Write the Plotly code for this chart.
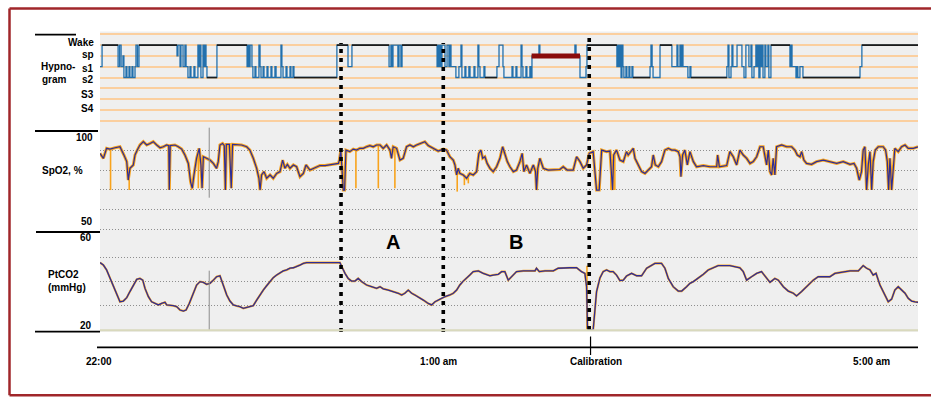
import plotly.graph_objects as go

W, H = 931, 397


def px(x):
    return x / W


def py(y):
    return 1 - y / H


# ---------------- DATA (time in minutes after 22:00) ----------------
hyp_t = [0.0, 1.1, 9.6, 10.4, 11.2, 12.2, 12.7, 13.8, 14.3, 15.4, 15.9, 17.0, 17.5, 18.6, 19.1, 19.9, 20.7,
         40.9, 41.4, 42.5, 43.0, 44.1, 45.1, 45.7, 46.7, 47.8, 48.3, 49.9, 50.4, 52.0, 52.6, 53.1, 53.6, 54.7,
         55.2, 55.8, 56.3, 56.8, 62.1,
         78.1, 78.6, 79.1, 79.7, 80.7, 81.2, 82.3, 82.8, 84.4, 85.0, 85.5, 86.6, 87.1, 88.7, 89.2, 90.8, 91.3,
         92.9, 93.5, 96.1, 96.6, 97.2, 98.8, 99.3, 100.9, 101.4, 102.5, 103.0,
         125.8, 131.7, 133.8, 153.5, 154.5, 155.1, 155.6, 158.2, 158.8, 159.8, 160.4, 179.0, 179.5, 180.0,
         180.5, 181.1, 181.6,
         183.2, 184.3, 185.3, 185.9, 186.4, 189.0, 190.6, 191.7, 192.2, 193.8, 194.3, 195.9, 196.5, 198.6,
         199.1, 200.7, 201.2, 201.8, 203.9, 204.4, 210.8, 211.9, 214.0, 214.5, 218.8, 219.3, 220.9, 221.4,
         223.6, 224.1, 224.6, 226.2, 226.7, 228.3, 228.9, 229.4, 233.1, 233.6, 252.2, 252.8, 254.9, 258.1, 258.6,
         274.5, 275.1, 275.6, 276.1, 276.7, 277.2, 277.7, 278.2, 279.3, 279.8, 280.9, 281.4, 282.5, 283.0,
         292.1, 292.6, 293.2, 293.7, 297.4, 303.7, 306.4, 306.9, 308.0, 308.5, 309.0, 309.6, 312.2, 313.3, 313.8,
         332.9, 333.5, 334.0, 335.1, 335.6, 336.1, 338.3, 340.9, 342.0, 343.0, 344.6, 345.7, 346.2, 347.3,
         348.3, 348.9, 349.4, 349.9, 350.5, 351.0, 351.5, 352.1, 353.1, 353.6, 354.7, 355.2, 356.3, 366.4,
         366.9, 367.5, 369.6, 370.1, 370.6, 371.7, 373.3, 403.6, 404.6, 434.4]
hyp_stage = ['s1', 'W', 's1', 'W', 's1', 'sp', 's2', 's1', 's2', 's1', 's2', 's1', 's2', 's1', 'W', 's1', 'W',
             'sp', 'W', 's1', 'W', 's1', 'W', 's1', 's2', 's1', 's2', 's1', 's2', 'W', 's1', 'W', 's2', 'W',
             's1', 'W', 's1', 's2', 'W',
             's1', 'W', 's1', 'W', 's1', 's2', 's1', 's2', 'W', 's1', 's2', 's1', 's2', 's1', 's2', 's1', 's2',
             's1', 's2', 'W', 's1', 's2', 's1', 's2', 's1', 's2', 's1', 's2',
             'W', 's1', 'W', 's1', 'W', 's1', 'W', 's1', 'W', 's1', 'W', 's1', 'W', 's1',
             'W', 's1', 'W',
             's1', 'W', 's1', 'W', 's1', 's2', 's1', 'W', 's2', 's1', 's2', 's1', 's2', 's1',
             's2', 'W', 's1', 's2', 's1', 's2', 's1', 'W', 's1', 's2', 's1', 's2', 's1', 's2',
             'W', 's1', 's2', 's1', 's2', 's1', 's2', 'sp', 'W', 'sp', 'W', 'sp', 's2', 's1', 'W',
             's1', 'W', 's1', 'W', 's2', 'W', 's1', 's2', 's1', 's2', 's1', 's2', 's1', 's2',
             's1', 'W', 's1', 's2', 'W', 's1', 'W', 's1', 'W', 's1', 'W', 's1', 's2', 's1', 's2',
             's1', 'W', 's2', 's1', 'W', 's1', 'W', 's1', 's2', 'W', 's1', 'W', 's2', 's1',
             'W', 's1', 'W', 's2', 'W', 's1', 'W', 's2', 'W', 's1', 'W', 's2', 'W', 's1',
             'W', 's1', 's2', 's1', 's2', 's1', 's2', 's1', 'W', 'W']
stage_names = ['Wake', 'sp', 's1', 's2', 'S3', 'S4']
stage_codes = ['W', 'sp', 's1', 's2', 'S3', 'S4']
arousal_t = [229.2, 254.9]
arousal_stage = 'sp'

spo2_t = [0.0, 1.8, 3.5, 5.3, 8.0, 10.6, 12.7, 14.2, 15.0, 15.9, 17.7, 18.6, 19.8, 21.2, 23.0, 24.8, 26.6,
          28.3, 30.1, 31.9, 33.6, 35.4, 36.5, 36.8, 37.3, 39.8, 41.6, 43.4, 45.1, 46.9, 48.1, 49.0, 49.9, 51.3,
          52.7, 53.6, 54.2, 54.9, 56.6, 58.4, 60.2, 61.9, 62.8, 63.7, 65.1, 66.0, 66.6, 67.1, 68.7, 69.7, 70.4,
          72.6, 75.2, 77.9, 79.6, 81.4, 83.2, 84.4, 85.0, 85.8, 87.1, 88.5, 90.3, 92.0, 93.8, 95.6, 97.0, 98.2,
          99.5, 100.9, 102.7, 104.4, 106.2, 108.0, 109.4, 111.5, 114.2, 116.8, 119.5, 122.1, 124.8, 126.6,
          127.1, 127.9, 129.2, 129.9, 130.6, 132.7, 134.5, 136.3, 138.0, 139.8, 141.6, 143.3, 145.1, 146.9,
          148.7, 150.4, 152.2, 154.0, 154.8, 155.7, 157.5, 159.3, 161.0, 162.8, 164.6, 166.4, 168.1, 169.9,
          172.5, 174.3, 177.0, 179.6, 182.3, 184.0, 185.8, 187.6, 188.5, 189.4, 190.2, 191.1, 192.9, 194.7,
          196.4, 198.2, 200.0, 201.2, 202.3, 203.2, 204.4, 205.6, 207.1, 208.8, 210.6, 212.4, 213.8, 215.0,
          216.3, 217.7, 219.5, 221.2, 223.0, 224.2, 225.1, 226.5, 228.3, 230.1, 231.3, 231.8, 232.5, 233.6,
          235.4, 238.0, 240.7, 244.2, 246.0, 248.1, 251.3, 253.1, 254.9, 256.6, 258.4, 259.8, 261.9, 263.7,
          265.1, 266.4, 269.0, 270.8, 272.2, 272.8, 274.3, 276.1, 277.9, 279.6, 280.5, 282.3, 283.2, 284.1,
          285.9, 287.6, 289.4, 291.2, 292.9, 293.8, 294.9, 296.5, 298.2, 300.0, 301.8, 303.6, 305.3, 307.1,
          308.0, 308.5, 309.4, 310.6, 311.9, 313.3, 315.1, 316.8, 320.4, 323.9, 327.5, 328.0, 328.9, 332.8,
          333.6, 334.5, 336.3, 338.1, 339.8, 341.6, 343.4, 345.2, 346.9, 348.7, 350.5, 352.2, 354.0, 354.9,
          355.8, 356.7, 357.5, 358.4, 359.3, 362.0, 364.6, 367.3, 369.0, 370.3, 371.7, 372.6, 373.8, 375.2,
          377.9, 380.5, 384.1, 387.6, 391.2, 394.7, 398.3, 400.4, 401.8, 403.2, 404.4, 405.3, 406.2, 407.1,
          408.0, 408.9, 409.8, 410.6, 411.7, 413.3, 415.9, 417.2, 418.1, 418.8, 419.5, 420.4, 421.3, 422.1,
          423.9, 425.7, 427.5, 429.2, 431.9, 433.7, 434.4]
spo2_v = [88.6, 86.1, 91.2, 90.8, 91.5, 92.0, 87.8, 84.4, 75.0, 81.0, 82.7, 87.8, 90.3, 92.9, 94.6, 92.9, 93.7,
          94.6, 92.9, 91.5, 92.0, 92.9, 92.6, 69.9, 92.6, 92.9, 92.0, 90.8, 87.8, 83.5, 74.1, 70.8, 77.6, 86.1,
          91.2, 82.7, 70.8, 86.9, 86.1, 85.2, 83.5, 81.0, 84.4, 92.9, 93.7, 92.6, 69.9, 93.2, 93.2, 70.8, 93.2,
          93.2, 92.9, 92.0, 90.3, 86.1, 81.0, 75.9, 69.9, 77.6, 79.3, 75.9, 77.6, 75.9, 78.4, 79.3, 85.2, 81.0,
          83.0, 81.0, 82.7, 81.8, 76.7, 78.4, 82.7, 80.1, 81.3, 82.4, 82.4, 82.7, 83.0, 83.5,
          85.2, 90.3, 69.9, 69.9, 90.3, 89.5, 90.8, 90.3, 91.2, 91.2, 92.0, 92.6, 92.0, 92.9,
          92.9, 91.2, 92.9, 90.3, 86.1, 92.0, 91.2, 85.2, 86.1, 92.0, 92.9, 92.0, 92.9, 93.7,
          94.6, 92.6, 91.2, 89.8, 90.8, 90.3, 86.9, 85.2, 82.7, 77.6, 81.0, 78.4, 77.6, 75.9,
          78.4, 77.6, 79.3, 88.6, 90.3, 86.1, 86.9, 83.5, 81.0, 79.3, 81.8, 86.1, 92.0, 87.8,
          84.4, 81.8, 79.3, 80.1, 84.4, 88.6, 79.3, 82.7, 78.4, 82.7, 79.3, 69.9, 81.0, 86.1,
          81.0, 80.1, 80.1, 80.4, 81.8, 80.1, 80.1, 86.9, 84.4, 81.0, 82.7, 88.6, 89.5, 69.9,
          69.9, 90.3, 89.5, 89.8, 69.9, 87.8, 90.3, 85.2, 84.4, 89.5, 87.8, 90.3, 91.2, 86.1,
          82.7, 79.3, 78.4, 80.1, 81.8, 87.8, 82.7, 81.8, 84.4, 90.3, 91.2, 90.3, 90.3, 89.5,
          86.9, 76.7, 87.8, 90.3, 82.7, 89.5, 84.4, 81.8, 82.4, 81.8, 81.8, 87.8, 81.8, 82.4,
          85.2, 89.5, 86.9, 82.7, 90.3, 87.8, 86.1, 83.5, 84.4, 86.9, 92.0, 92.0, 82.7, 90.3,
          79.3, 77.6, 86.1, 77.6, 92.0, 92.9, 92.0, 92.0, 90.3, 87.8, 86.9, 89.5, 85.2, 83.5,
          83.0, 84.4, 85.2, 84.4, 83.5, 84.4, 83.0, 83.5, 81.0, 75.0, 79.3, 90.3, 92.0, 69.9,
          82.7, 89.5, 69.9, 84.4, 90.3, 92.0, 92.0, 90.3, 84.4, 69.9, 86.1, 69.9, 82.7, 91.2,
          89.5, 92.0, 92.9, 91.2, 91.2, 92.0, 92.0]
# raw (orange) channel: extra artefact drops not present in the averaged trace
spo2_raw_drop_t = [5.6, 15.5, 48.6, 52.2, 135.9, 147.8, 156.6, 189.7, 193.5, 195.6, 271.3, 273.4]
spo2_raw_drop_v = [69.9, 69.9, 69.9, 70.8, 70.8, 70.8, 70.8, 69.1, 72.4, 73.3, 69.9, 69.9]

ptco2_t = [0.0, 1.8, 3.5, 5.3, 7.1, 8.9, 10.6, 12.4, 14.2, 15.9, 17.7, 19.5, 21.2, 22.7, 23.9, 25.7, 27.4,
           29.2, 31.0, 32.7, 34.5, 35.4, 37.2, 38.9, 40.7, 42.5, 44.3, 45.7, 47.4, 49.6, 51.3, 53.1, 54.9,
           56.6, 58.4, 60.2, 61.9, 63.7, 65.5, 67.3, 69.0, 70.8, 72.6, 74.3, 76.1, 77.9, 79.6, 81.4, 83.2,
           84.9, 86.7, 88.5, 90.3, 92.0, 93.8, 95.6, 97.3, 99.1, 100.9, 102.7, 104.4, 106.2, 108.0, 109.7,
           127.4, 128.3, 130.1, 131.8, 133.6, 135.4, 137.1, 138.9, 141.6, 144.2, 146.9, 148.7, 150.4, 153.1,
           155.7, 158.4, 160.2, 161.9, 163.7, 165.5, 167.2, 169.0, 171.7, 174.3, 176.1, 177.9, 180.5, 183.2,
           185.8, 187.6, 189.4, 191.1, 192.9, 194.7, 196.4, 198.2, 200.9, 203.5, 205.3, 207.1, 208.8, 211.5,
           213.3, 215.0, 216.8, 218.6, 221.2, 224.8, 228.3, 231.0, 231.8, 233.3, 236.3, 240.7, 243.3, 246.0,
           249.5, 253.1, 255.7, 257.5, 258.4, 258.9, 260.2, 261.9, 262.8, 263.7, 265.5, 267.2, 269.0, 270.8,
           272.5, 274.3, 276.1, 277.9, 279.6, 282.3, 285.0, 287.6, 290.3, 293.0, 294.7, 298.2, 300.0, 301.8,
           304.4, 307.1, 308.9, 311.5, 313.3, 315.1, 317.7, 320.4, 323.0, 325.7, 328.3, 334.5, 339.8, 341.6,
           343.4, 346.0, 348.7, 351.3, 354.0, 355.8, 358.4, 360.2, 362.9, 365.5, 368.2, 369.9, 372.6, 376.1,
           378.8, 381.4, 387.6, 390.3, 394.7, 398.3, 402.7, 405.3, 407.1, 408.9, 410.6, 412.1, 414.2, 416.8,
           418.6, 420.4, 422.1, 423.9, 425.7, 427.5, 429.2, 431.0, 432.8, 434.4]
ptco2_v = [47.8, 46.8, 44.8, 41.3, 37.9, 34.5, 31.7, 32.0, 33.4, 35.9, 38.6, 40.9, 41.3, 40.6, 37.2, 33.8, 31.7,
           31.0, 30.4, 31.0, 31.5, 30.4, 30.4, 30.1, 29.7, 28.3, 27.9, 28.3, 31.0, 35.2, 38.6, 40.0, 39.7,
           38.9, 39.3, 40.6, 42.0, 42.4, 38.6, 34.5, 32.0, 30.4, 30.0, 29.7, 29.0, 29.4, 29.7, 30.1, 32.4,
           34.5, 36.5, 38.3, 40.2, 41.6, 42.7, 43.7, 44.4, 44.8, 45.5, 45.7, 46.1, 46.8, 47.5, 47.8,
           47.8, 46.1, 43.4, 41.3, 40.2, 40.2, 41.3, 40.0, 38.6, 37.9, 37.2, 37.9, 37.0, 36.5,
           35.9, 35.2, 34.5, 35.2, 36.5, 35.2, 34.5, 33.8, 32.4, 31.0, 30.4, 31.7, 32.8, 33.8,
           34.5, 35.2, 36.5, 38.6, 40.2, 41.3, 42.7, 44.1, 44.4, 43.4, 43.0, 42.4, 42.7, 43.0,
           44.1, 44.1, 40.6, 42.0, 44.1, 44.4, 44.4, 44.4, 45.5, 44.1, 44.4, 44.4, 45.5, 45.7,
           45.7, 45.7, 44.1, 43.4, 37.9, 20.8, 20.1, 20.1, 29.0, 35.9, 41.5, 44.1, 44.8, 44.1,
           44.1, 42.7, 40.4, 40.6, 42.3, 43.4, 42.4, 42.4, 45.5, 46.8, 47.5, 47.5, 45.5, 41.3,
           37.9, 36.1, 36.1, 37.9, 39.3, 40.0, 41.3, 43.0, 44.8, 45.7, 46.6, 46.6, 45.7, 44.1,
           40.6, 42.0, 43.4, 44.1, 41.6, 39.7, 41.3, 40.6, 37.9, 36.1, 35.2, 34.1, 35.9, 38.6,
           40.6, 42.0, 42.0, 43.4, 43.8, 44.4, 44.4, 46.6, 45.5, 44.8, 42.7, 43.4, 38.6, 34.5,
           31.7, 32.8, 36.5, 37.9, 36.5, 35.2, 33.1, 32.0, 31.7, 31.5]
ptco2_raw_spike_t = [258.6]
ptco2_raw_spike_lo = [20.3]
ptco2_raw_spike_hi = [46.5]

event_t = [128.0, 182.3, 259.8]          # dotted event markers (A start, A/B border, calibration)
artefact_t = 58.0                         # thin grey marker line
calibration_t = 260.5
phase_labels = ['A', 'B']
phase_t = [155.7, 220.7]
time_labels = ['22:00', '1:00 am', 'Calibration', '5:00 am']
time_label_t = [0.0, 180.0, 263.4, 409.7]
spo2_scale_labels = ['100', '50']
ptco2_scale_labels = ['60', '20']

# ---------------- STYLE ----------------
FONT = 'Liberation Sans, Arial, sans-serif'
NAVY = '#2d2d98'
ORANGE = '#f8a31c'
BLUE = '#2270ad'

fig = go.Figure()

lvl = {c: 5 - i for i, c in enumerate(stage_codes)}
hy = [lvl[s] for s in hyp_stage]
fig.add_trace(go.Scatter(x=hyp_t, y=hy, mode='lines', yaxis='y',
                         line=dict(color=BLUE, width=1.3, shape='hv'), hoverinfo='skip'))
bx, by = [], []
for i in range(len(hyp_t) - 1):
    if hyp_t[i + 1] - hyp_t[i] >= 5:
        bx += [hyp_t[i], hyp_t[i + 1], None]
        by += [hy[i], hy[i], None]
fig.add_trace(go.Scatter(x=bx, y=by, mode='lines', yaxis='y',
                         line=dict(color='#1c1c1c', width=1.7), hoverinfo='skip'))
fig.add_trace(go.Scatter(x=arousal_t, y=[lvl[arousal_stage]] * 2, mode='lines', yaxis='y',
                         line=dict(color='#8a0c0c', width=5), hoverinfo='skip'))

# SpO2: raw orange channel (halo + sharp drops) under the navy averaged trace
fig.add_trace(go.Scatter(x=spo2_t, y=spo2_v, mode='lines', yaxis='y2',
                         line=dict(color=ORANGE, width=3.0), hoverinfo='skip'))
dx, dy = [], []
for t, v in zip(spo2_raw_drop_t, spo2_raw_drop_v):
    j = min(range(len(spo2_t)), key=lambda k: abs(spo2_t[k] - t))
    dx += [t, t, None]
    dy += [spo2_v[j], v, None]
fig.add_trace(go.Scatter(x=dx, y=dy, mode='lines', yaxis='y2',
                         line=dict(color=ORANGE, width=1.6), hoverinfo='skip'))
fig.add_trace(go.Scatter(x=spo2_t, y=spo2_v, mode='lines', yaxis='y2',
                         line=dict(color=NAVY, width=1.2), hoverinfo='skip'))

fig.add_trace(go.Scatter(x=ptco2_t, y=ptco2_v, mode='lines', yaxis='y3',
                         line=dict(color=ORANGE, width=2.1), hoverinfo='skip'))
sx, sy = [], []
for t, lo, hi in zip(ptco2_raw_spike_t, ptco2_raw_spike_lo, ptco2_raw_spike_hi):
    sx += [t, t, None]
    sy += [lo, hi, None]
fig.add_trace(go.Scatter(x=sx, y=sy, mode='lines', yaxis='y3',
                         line=dict(color=ORANGE, width=1.6), hoverinfo='skip'))
fig.add_trace(go.Scatter(x=ptco2_t, y=ptco2_v, mode='lines', yaxis='y3',
                         line=dict(color=NAVY, width=1.3), hoverinfo='skip'))

ann = []


def text(t, x, y, size=10, xanchor='left', xref='paper', xshift=0):
    ann.append(dict(text='<b>%s</b>' % t, x=x, y=y, xref=xref, yref='paper', showarrow=False,
                    xanchor=xanchor, yanchor='middle', xshift=xshift,
                    font=dict(family=FONT, size=size, color='black')))


for name, yy in zip(stage_names, [42.7, 54.5, 68.0, 80.0, 94.3, 108.3]):
    text(name, px(95.5), py(yy), xanchor='right')
text('Hypno-', px(39), py(66.7))
text('gram', px(39.5), py(80))
text('SpO2, %', px(39.5), py(171))
text('PtCO2', px(46), py(274))
text('(mmHg)', px(46), py(287.5))
for s, yy in zip(spo2_scale_labels, [137.7, 221.7]):
    text(s, px(94.5), py(yy), xanchor='right')
for s, yy in zip(ptco2_scale_labels, [237.7, 325.0]):
    text(s, px(93.5), py(yy), xanchor='right')
for i, (s, t) in enumerate(zip(time_labels, time_label_t)):
    text(s, t, py(361.5), xanchor='center', xref='x', xshift=-1.5 if i == 0 else 0)
for s, t in zip(phase_labels, phase_t):
    text(s, t, py(242.3), size=20, xanchor='center', xref='x')

shapes = []
for i, t in enumerate(event_t):
    top = 35 if i == 2 else 43
    bot = 330 if i == 2 else 332
    shapes.append(dict(type='line', xref='x', yref='paper', x0=t, x1=t, y0=py(bot), y1=py(top),
                       line=dict(color='black', width=3.6, dash='4px,5px')))
shapes.append(dict(type='line', xref='x', yref='paper', x0=calibration_t, x1=calibration_t,
                   y0=py(355), y1=py(336.5), line=dict(color='black', width=1.2)))
for a, b in [(127.7, 197.7), (270.7, 330.0)]:
    shapes.append(dict(type='line', xref='x', yref='paper', x0=artefact_t, x1=artefact_t,
                       y0=py(b), y1=py(a), line=dict(color='#8c8c8c', width=1)))
shapes.append(dict(type='line', xref='paper', yref='y3', x0=px(100), x1=px(918), y0=20, y1=20,
                   line=dict(color='#d9d9bd', width=2)))
shapes.append(dict(type='line', xref='paper', yref='paper', x0=px(97), x1=px(918), y0=py(347.3),
                   y1=py(347.3), line=dict(color='black', width=1.8)))
for x0, x1, yy in [(35, 76, 34.6), (35, 98, 131), (36, 100, 232), (35, 100, 331.7)]:
    shapes.append(dict(type='line', xref='paper', yref='paper', x0=px(x0), x1=px(x1), y0=py(yy),
                       y1=py(yy), line=dict(color='black', width=1.8)))
# red frame: left, top and bottom edges (the right edge lies outside the picture)
for x0, y0, x1, y1 in [(9.5, 8.5, 9.5, 395.2), (9.5, 8.5, 931, 8.5), (9.5, 395.2, 931, 395.2)]:
    shapes.append(dict(type='line', xref='paper', yref='paper', x0=px(x0), x1=px(x1), y0=py(y0), y1=py(y1),
                       line=dict(color='#a0262a', width=2.5)))

grid_dot = dict(showticklabels=False, zeroline=False, showline=False, ticks='', griddash='1px,2px',
                gridcolor='#8e8e8e', gridwidth=1, fixedrange=True)
fig.update_layout(
    width=W, height=H, autosize=False, margin=dict(l=0, r=0, t=0, b=0),
    paper_bgcolor='white', plot_bgcolor='#efefef', showlegend=False,
    xaxis=dict(domain=[px(100), px(918)], range=[0, 434.4], showgrid=False, zeroline=False,
               showticklabels=False, ticks='', showline=False, anchor='y3', fixedrange=True),
    yaxis=dict(domain=[py(131), py(31.5)], range=[-2.954, 6.259], tickvals=list(range(-2, 7)),
               showticklabels=False, zeroline=False, ticks='', gridcolor='#fbcf9f', gridwidth=1.6,
               anchor='x', fixedrange=True),
    yaxis2=dict(domain=[py(232), py(131)], range=[48.47, 100.05], tickvals=[50, 60, 70, 80, 90, 100],
                anchor='x', **grid_dot),
    yaxis3=dict(domain=[py(332), py(232)], range=[19.26, 60.41], tickvals=[30, 40, 50, 60],
                anchor='x', **grid_dot),
    annotations=ann, shapes=shapes,
)

fig.write_html('out.html', config={'displayModeBar': False},
               post_script="document.body.style.margin='0';document.body.style.padding='0';")
